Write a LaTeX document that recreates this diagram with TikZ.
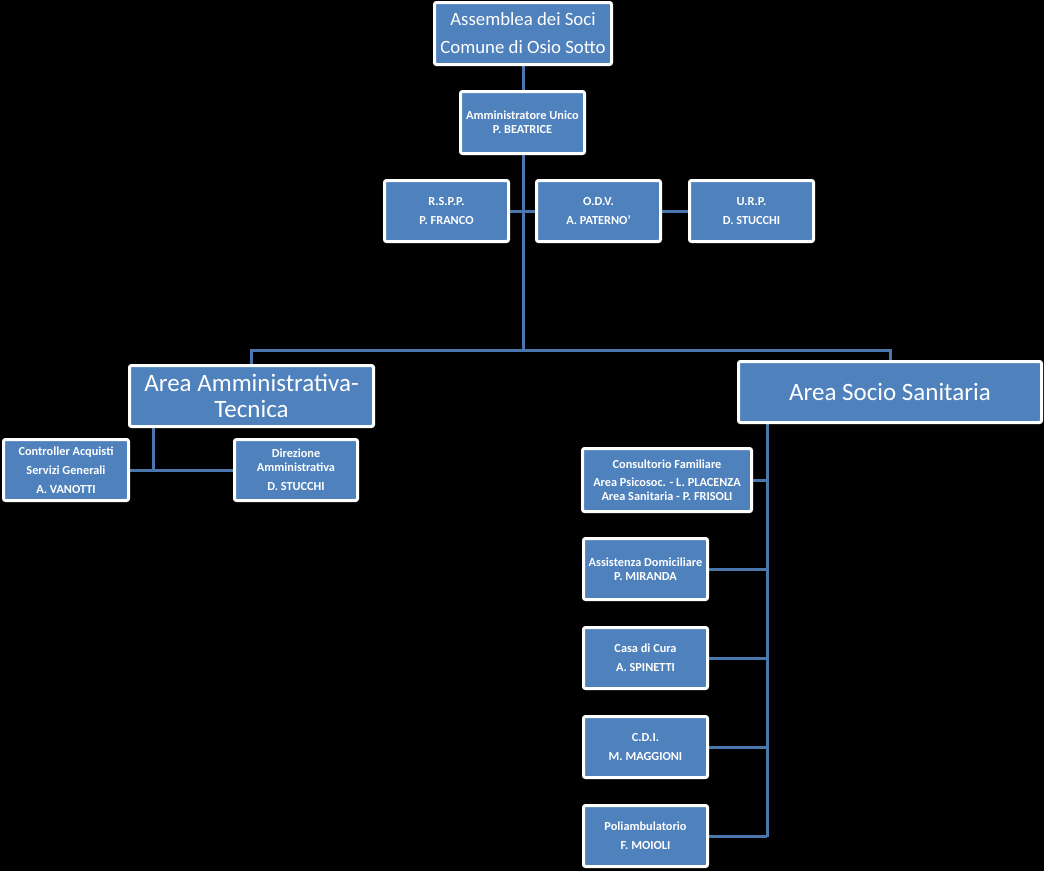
\documentclass[tikz,border=0pt]{standalone}
\usepackage{fontspec}
\setmainfont{Carlito}
\usetikzlibrary{positioning, backgrounds}
\definecolor{boxblue}{HTML}{4F81BD}
\definecolor{lineblue}{HTML}{4A76AD}
\tikzset{
  orgbox/.style={rectangle, draw=white, line width=3pt, rounded corners=2pt,
                 fill=boxblue, text=white, align=center, inner sep=2pt,
                 minimum width=124pt, minimum height=61pt,
                 font=\fontsize{12.3}{14}\selectfont\bfseries},
  topbox/.style={orgbox, minimum width=177pt, minimum height=62pt,
                 font=\fontsize{18.8}{28}\selectfont},
  areabox/.style={orgbox, minimum height=61pt,
                  font=\fontsize{25}{26}\selectfont},
  link/.style={draw=lineblue, line width=3pt},
}

\begin{document}
\begin{tikzpicture}[x=1pt, y=-1pt]

  \node[topbox] (assem) at (523,33.5) {Assemblea dei Soci\\Comune di Osio Sotto};
  \node[orgbox, minimum height=62pt] (admin) at (522.5,122.5) {Amministratore Unico\\P. BEATRICE};

  \node[orgbox] (rspp) at (446.5,211) {R.S.P.P.\\[5pt]P. FRANCO};
  \node[orgbox] (odv)  at (598.5,211) {O.D.V.\\[5pt]A. PATERNO'};
  \node[orgbox] (urp)  at (751.5,211) {U.R.P.\\[5pt]D. STUCCHI};

  \node[areabox, minimum width=244pt] (aat) at (251.5,396) {Area Amministrativa-\\Tecnica};
  \node[areabox, minimum width=303pt] (ass) at (890,392) {Area Socio Sanitaria};

  \node[orgbox, minimum width=125pt] (ctrl) at (66,470) {Controller Acquisti\\[5pt]Servizi Generali\\[5pt]A. VANOTTI};
  \node[orgbox, minimum width=123pt] (dir)  at (296,470) {Direzione\\Amministrativa\\[5pt]D. STUCCHI};

  \node[orgbox, minimum width=169pt, minimum height=63pt] (cons) at (667,480)
    {Consultorio Familiare\\[4pt]Area Psicosoc. - L. PLACENZA\\Area Sanitaria - P. FRISOLI};
  \node[orgbox] (assd) at (645.5,569) {Assistenza Domiciliare\\P. MIRANDA};
  \node[orgbox] (casa) at (645.5,658) {Casa di Cura\\[5pt]A. SPINETTI};
  \node[orgbox] (cdi)  at (645.5,747) {C.D.I.\\[5pt]M. MAGGIONI};
  \node[orgbox] (poli) at (645.5,836) {Poliambulatorio\\[5pt]F. MOIOLI};

  \coordinate (hub)   at (523,350);
  \coordinate (aatj)  at (153,470);
  \coordinate (assj)  at (767,837);

  \begin{scope}[on background layer]
    \fill[black] (0,0) rectangle (1044,871);
    \draw[link] (assem.south) -- (hub);
    \draw[link] (rspp) -- (odv);
    \draw[link] (odv) -- (urp);
    \draw[link] (hub) -| (aat.north);
    \draw[link] (hub) -| (ass.north);
    \draw[link] (aat.south -| aatj) -- (aatj);
    \draw[link] (ctrl) -- (dir);
    \draw[link] (ass.south -| assj) -- (assj);
    \foreach \n in {cons, assd, casa, cdi, poli}
      \draw[link] (\n.east) -- (\n.east -| assj);
  \end{scope}

\end{tikzpicture}
\end{document}
